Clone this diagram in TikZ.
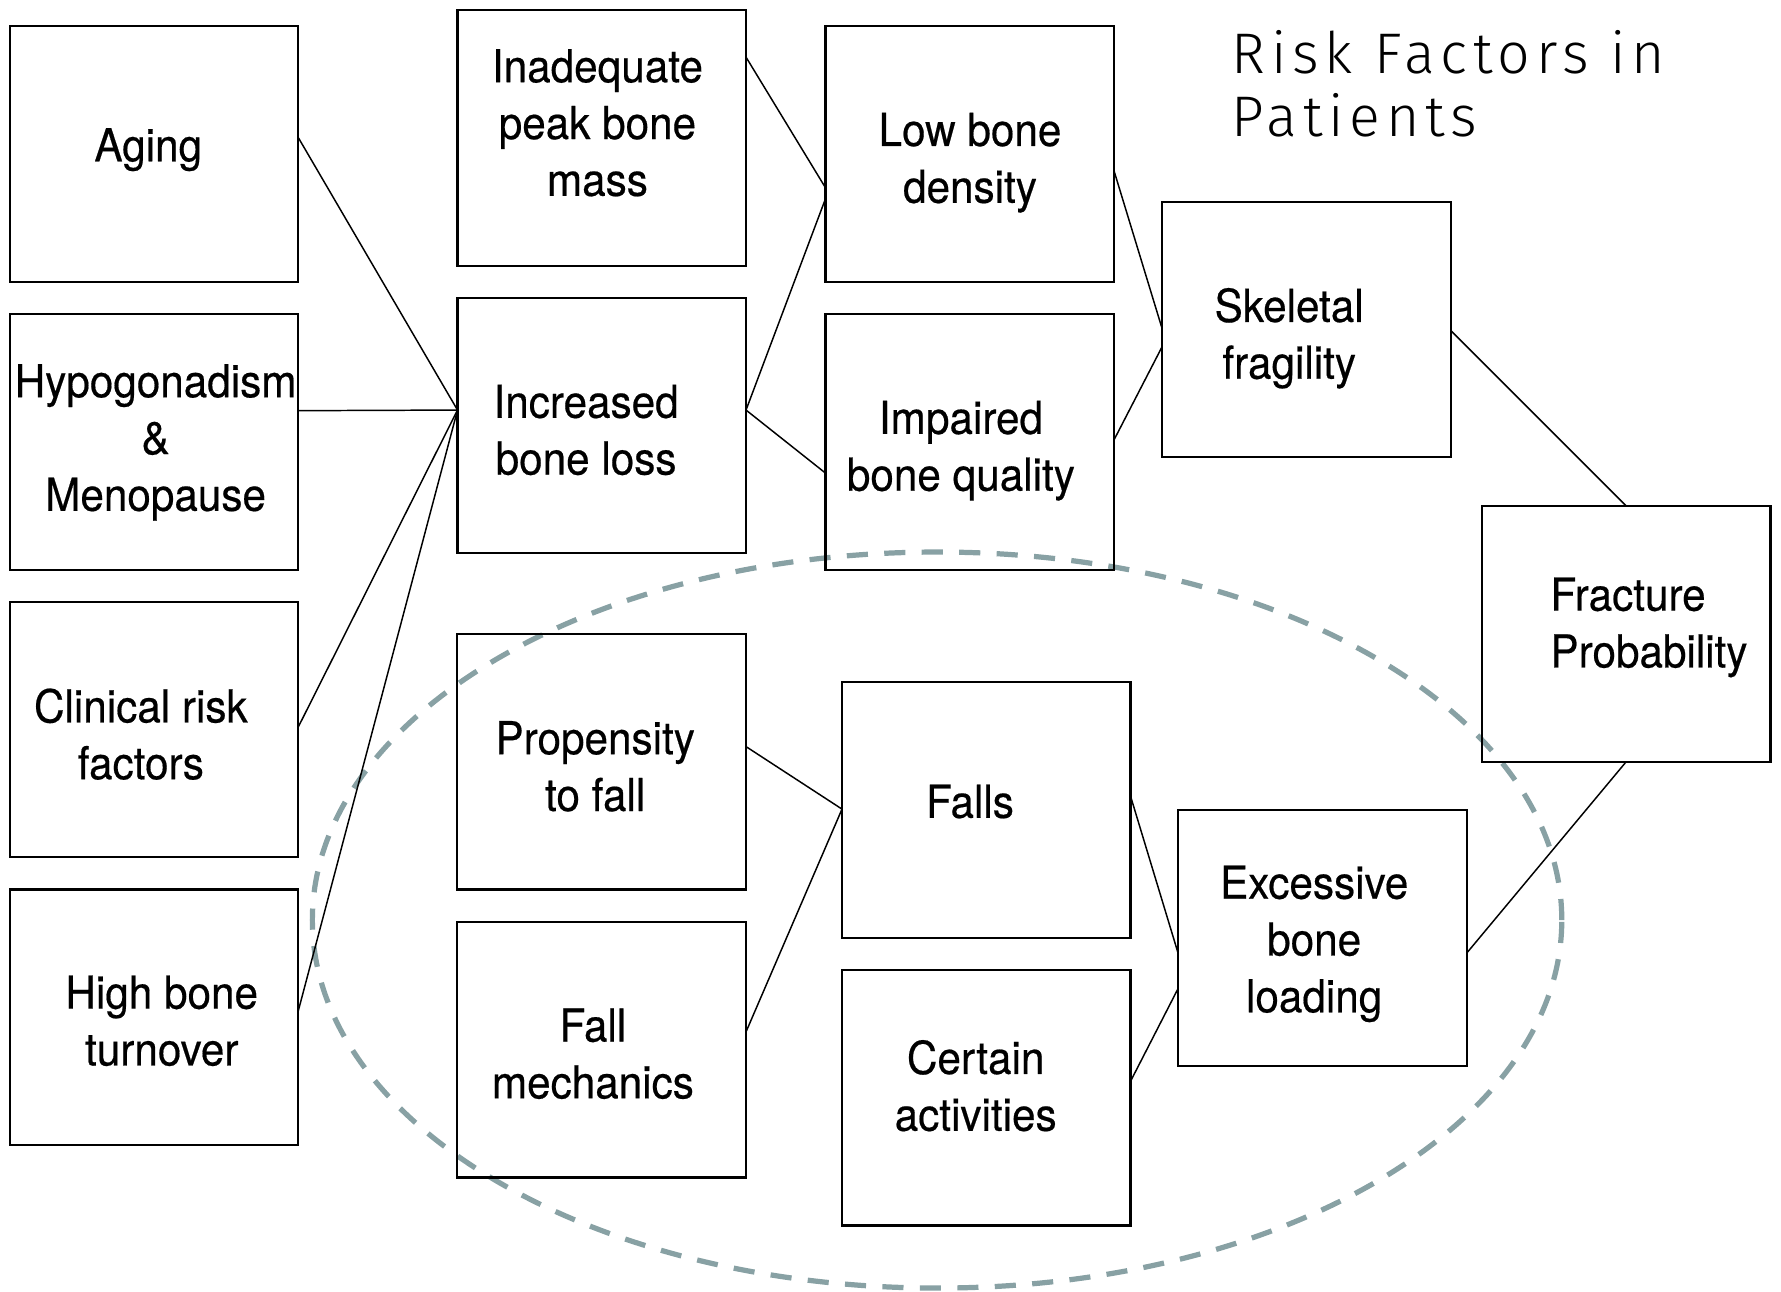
\documentclass[tikz,border=0pt]{standalone}
\usepackage{fontspec}
\setmainfont{TeX Gyre Heros}[FakeStretch=0.93, FakeBold=0.4]
\newfontfamily\titlefont{Fira Sans Light}[LetterSpace=10]
\usetikzlibrary{calc}
\definecolor{ringgray}{RGB}{136,161,164}
\tikzset{
  box/.style={draw, line width=0.95pt, minimum width=127pt, minimum height=112.5pt,
    inner sep=0pt, outer sep=0pt},
  lbl/.style={align=center, inner sep=0pt, font=\fontsize{20}{25}\selectfont},
  link/.style={line width=0.65pt},
  ring/.style={draw=ringgray, line width=2.3pt, dash pattern=on 9.3pt off 7.2pt}
}
\begin{document}
\begin{tikzpicture}[x=0.5pt,y=-0.5pt]
\useasboundingbox (0,0) rectangle (1568,1137);

% dashed ring round the fall-related factors
\draw[ring] (825,810) ellipse [x radius=275pt, y radius=162pt];

% boxes
\node[box] (aging)    at (135.6,135.5) {};
\node[box] (hypo)     at (135.6,389)   {};
\node[box] (clinical) at (135.6,642.3) {};
\node[box] (high)     at (135.6,895.6) {};
\node[box] (peak)     at (529.8,121.4) {};
\node[box] (loss)     at (529.8,374.5) {};
\node[box] (prop)     at (529.5,670.6) {};
\node[box] (mech)     at (529.5,924.2) {};
\node[box] (density)  at (853.7,135.5) {};
\node[box] (quality)  at (853.7,389)   {};
\node[box] (falls)    at (868.3,713)   {};
\node[box] (activ)    at (868.3,966.4) {};
\node[box] (skel)     at (1150.2,290)  {};
\node[box] (load)     at (1164.2,825.7) {};
\node[box] (fract)    at (1431.8,558)  {};

% box texts
\node[lbl] (aging-t)    at (130.5,132)   {\strut Aging\strut};
\node[lbl] (hypo-t)     at (137,389.7)   {\strut Hypogonadism\\\&\\Menopause\strut};
\node[lbl] (clinical-t) at (124,651)     {\strut Clinical risk\\factors\strut};
\node[lbl] (high-t)     at (142.4,903)   {\strut High bone\\turnover\strut};
\node[lbl] (peak-t)     at (526,112.4)   {\strut Inadequate\\peak bone\\mass\strut};
\node[lbl] (loss-t)     at (516,382.8)   {\strut Increased\\bone loss\strut};
\node[lbl] (prop-t)     at (524,679)     {\strut Propensity\\to fall\strut};
\node[lbl] (mech-t)     at (522,932)     {\strut Fall\\mechanics\strut};
\node[lbl] (density-t)  at (854,143.5)   {\strut Low bone\\density\strut};
\node[lbl] (quality-t)  at (846,397)     {\strut Impaired\\bone quality\strut};
\node[lbl] (falls-t)    at (854,710)     {\strut Falls\strut};
\node[lbl] (activ-t)    at (859,960.5)   {\strut Certain\\activities\strut};
\node[lbl] (skel-t)     at (1135,298.4)  {\strut Skeletal\\fragility\strut};
\node[lbl] (load-t)     at (1157,831.2)  {\strut Excessive\\bone\\loading\strut};
\node[lbl, align=left, anchor=west] (fract-t) at (1364.6,552.6) {\strut Fracture\\Probability\strut};

% heading
\node[anchor=west, align=left, inner sep=0pt,
      font=\titlefont\fontsize{25.2}{28}\selectfont] (title) at (1084,81.2)
      {\strut Risk Factors in\\Patients\strut};

% connection points on the box sides
\coordinate (lossin)  at ($(loss.north west)!0.44!(loss.south west)$);
\coordinate (lossout) at ($(loss.north east)!0.44!(loss.south east)$);
\coordinate (fallsin) at ($(falls.north west)!0.497!(falls.south west)$);

% connectors
\draw[link] ($(aging.north east)!0.436!(aging.south east)$)       -- (lossin);
\draw[link] ($(hypo.north east)!0.378!(hypo.south east)$)         -- (lossin);
\draw[link] ($(clinical.north east)!0.49!(clinical.south east)$)  -- (lossin);
\draw[link] ($(high.north east)!0.475!(high.south east)$)         -- (lossin);
\draw[link] ($(peak.north east)!0.184!(peak.south east)$)
         -- ($(density.north west)!0.632!(density.south west)$);
\draw[link] (lossout) -- ($(density.north west)!0.676!(density.south west)$);
\draw[link] (lossout) -- ($(quality.north west)!0.622!(quality.south west)$);
\draw[link] ($(density.north east)!0.565!(density.south east)$)
         -- ($(skel.north west)!0.498!(skel.south west)$);
\draw[link] ($(quality.north east)!0.493!(quality.south east)$)
         -- ($(skel.north west)!0.567!(skel.south west)$);
\draw[link] ($(skel.north east)!0.504!(skel.south east)$) -- (fract.north);
\draw[link] ($(prop.north east)!0.44!(prop.south east)$)   -- (fallsin);
\draw[link] ($(mech.north east)!0.433!(mech.south east)$)  -- (fallsin);
\draw[link] ($(falls.north east)!0.446!(falls.south east)$)
         -- ($(load.north west)!0.56!(load.south west)$);
\draw[link] ($(activ.north east)!0.436!(activ.south east)$)
         -- ($(load.north west)!0.698!(load.south west)$);
\draw[link] ($(load.north east)!0.56!(load.south east)$) -- (fract.south);
\end{tikzpicture}
\end{document}
